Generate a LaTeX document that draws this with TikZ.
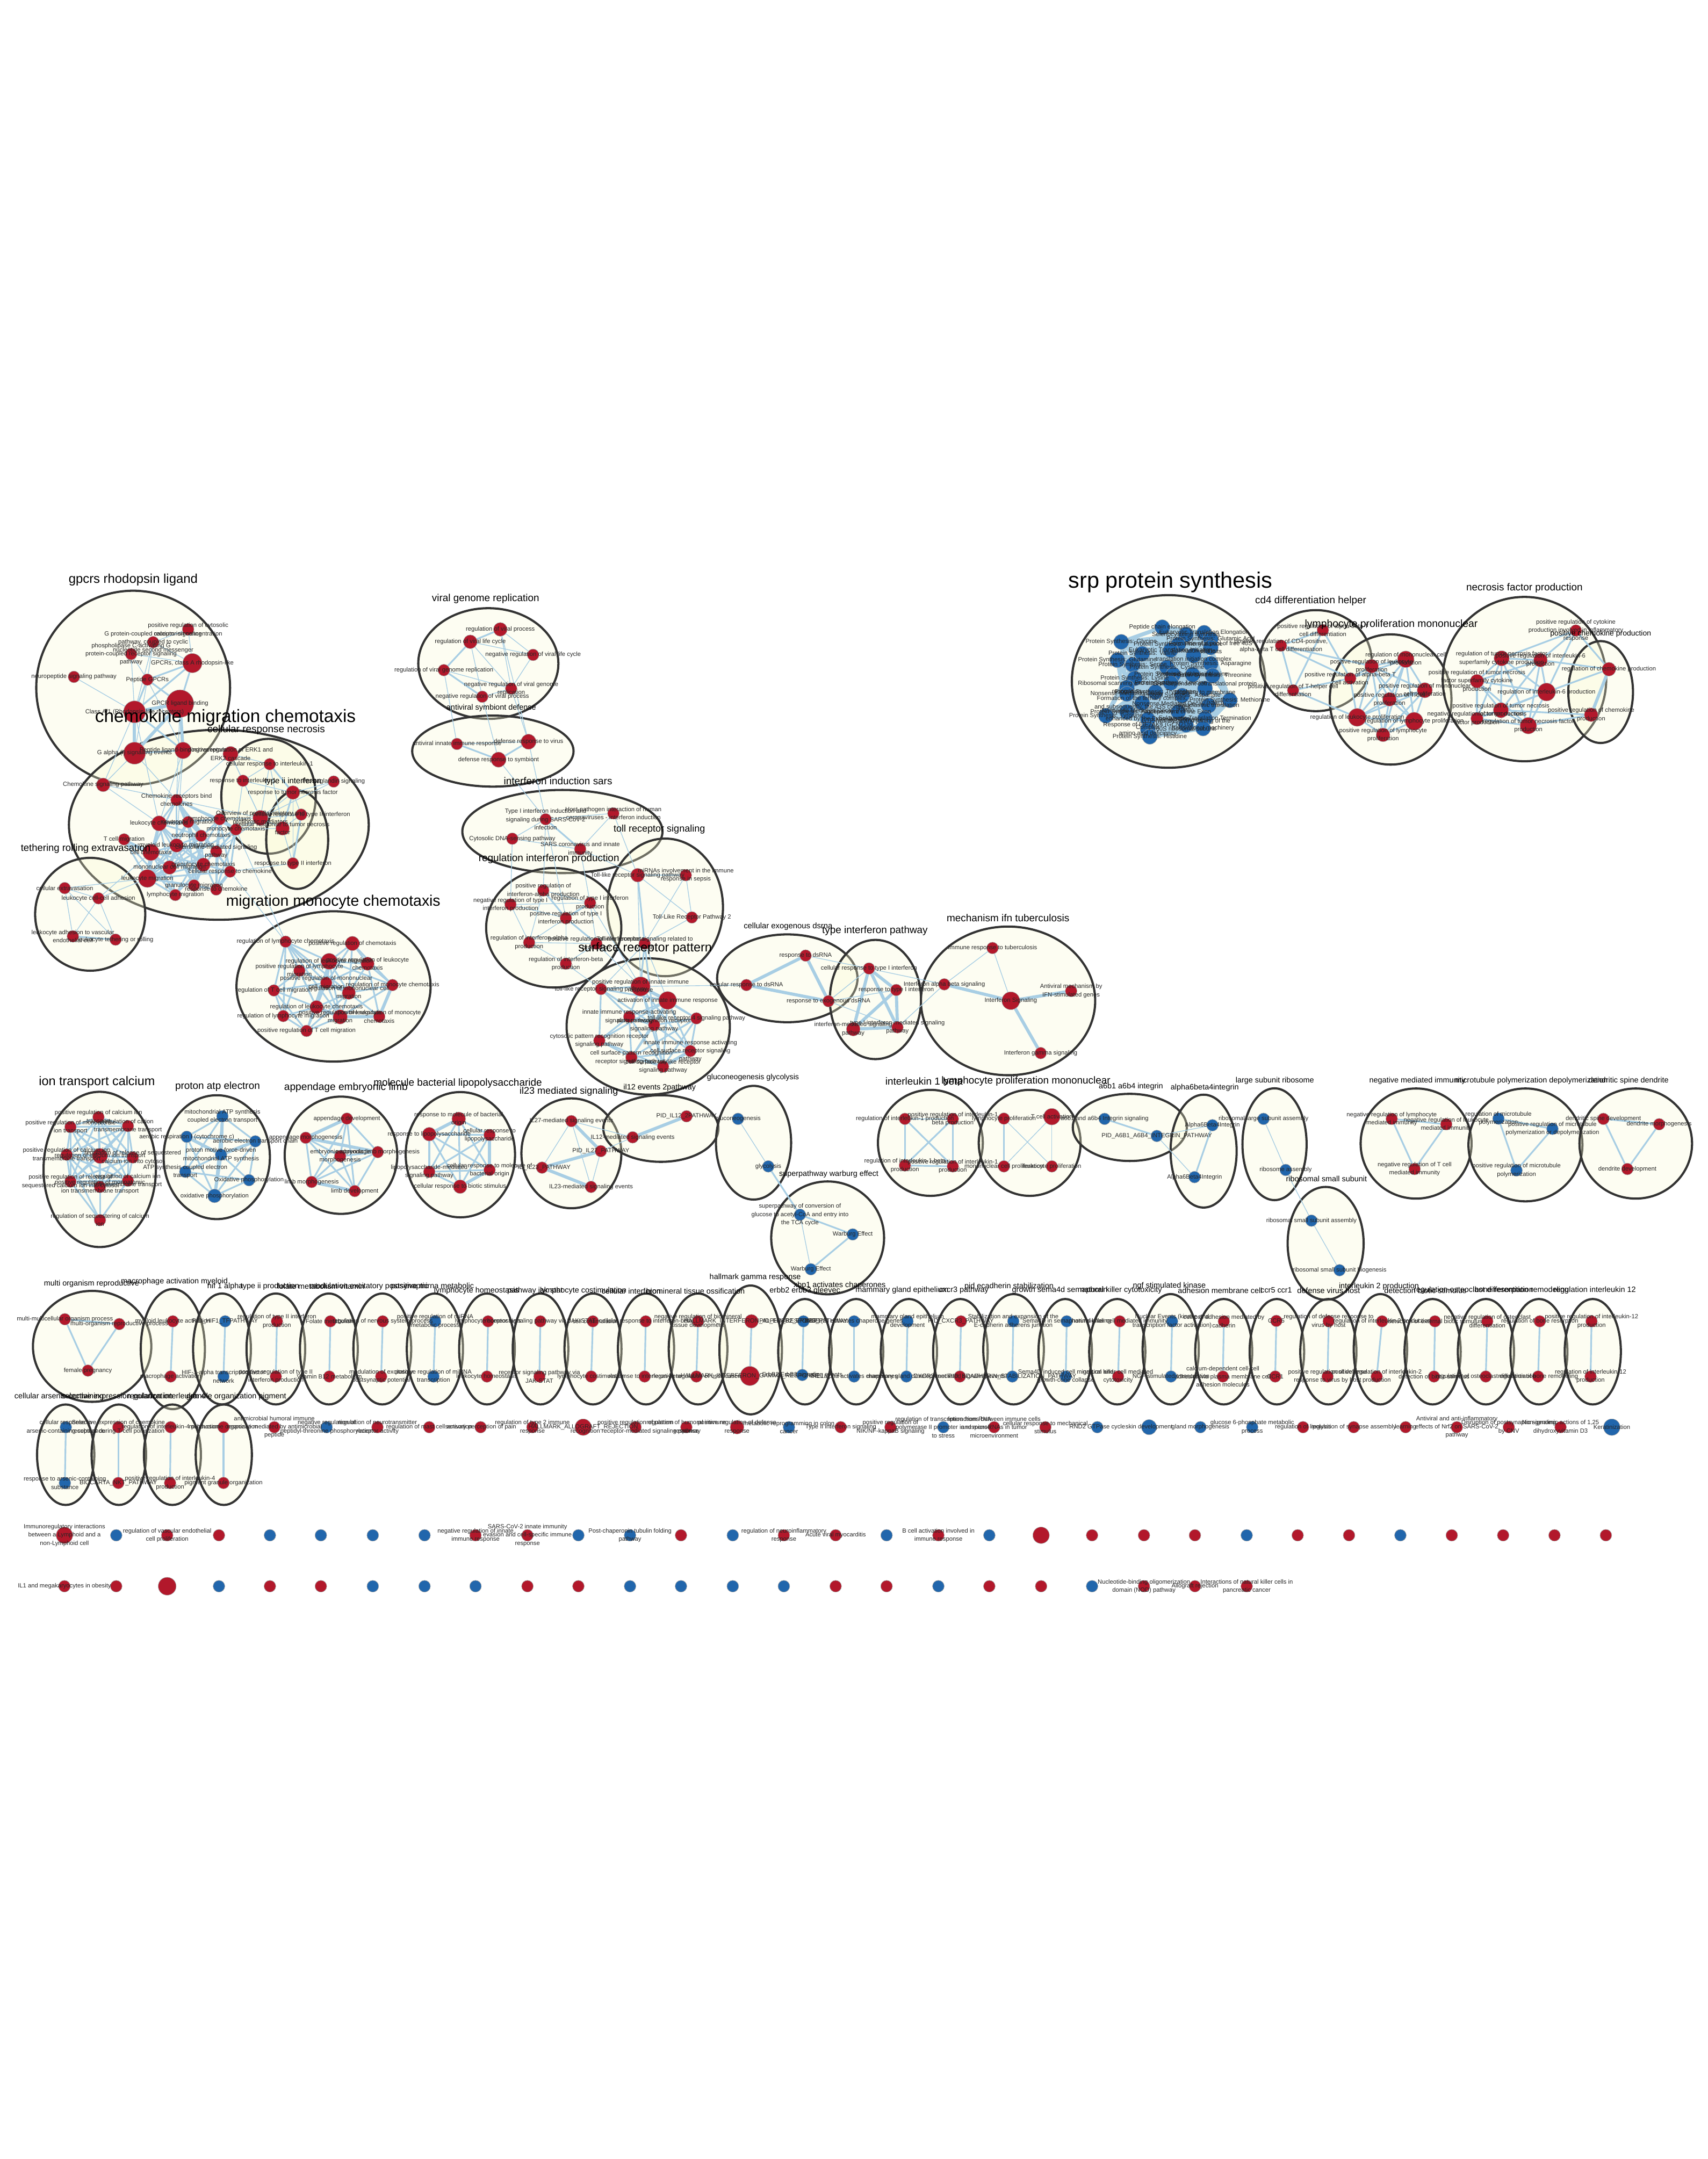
\documentclass[tikz,border=0pt]{standalone}
\usepackage{fontspec}
\setmainfont{Liberation Sans}
\usetikzlibrary{shapes.geometric}
\pgfdeclarelayer{bg}
\pgfdeclarelayer{edges}
\pgfdeclarelayer{front}
\pgfsetlayers{bg,edges,main,front}
\definecolor{nred}{RGB}{178,24,43}
\definecolor{nblue}{RGB}{33,102,172}
\definecolor{eblue}{RGB}{168,206,228}
\definecolor{cfill}{RGB}{250,250,212}
\definecolor{cline}{RGB}{51,51,51}
\tikzset{
 rn/.style={circle,inner sep=0pt,fill=nred,draw=gray!70,line width=0.15pt},
 bn/.style={rn,fill=nblue},
 sz/.style={minimum size=#1*0.02cm},
 lbl/.style={font=\fontsize{2.5}{3.4}\selectfont,align=center,inner sep=0pt,text=black!85},
 ttl/.style={inner sep=0pt,text=black},
 clus/.style={ellipse,draw=cline,line width=0.9pt,fill=cfill,fill opacity=0.3,inner sep=0pt},
 lk/.style={draw=eblue,line width=0.3pt},
 lkm/.style={draw=eblue,line width=0.7pt},
 lkt/.style={draw=eblue,line width=1.3pt},
}
\newcommand\drawR[5][8.5]{\node[rn,sz=#1] (#2) at (#3,#4) {};}
\newcommand\drawB[5][8.5]{\node[bn,sz=#1] (#2) at (#3,#4) {};}
\newcommand\labR[5][8.5]{\node[lbl] (#2-l) at (#3,#4) {#5};}
\newcommand\mkC[5]{\node[clus,minimum width=#4*0.04cm,minimum height=#5*0.04cm] (#1) at (#2,#3) {};}
\newcommand\mkT[5]{\node[ttl,font=\fontsize{#4}{#4}\selectfont] (T-#1) at (#2,#3) {#5};}
\newcommand\nodelist{%
% cluster A gpcrs
\mkR{a1}{136.6}{457}{positive regulation of cytosolic\\calcium ion concentration}
\mkR{a2}{111.2}{466.4}{G protein-coupled receptor signaling\\pathway, coupled to cyclic\\nucleotide second messenger}
\mkR{a3}{95.2}{475}{phospholipase C-activating G\\protein-coupled receptor signaling\\pathway}
\mkR[14]{a4}{139.7}{481.6}{GPCRs, class A rhodopsin-like}
\mkR{a5}{53.7}{491.6}{neuropeptide signaling pathway}
\mkR{a6}{107}{493.6}{Peptide GPCRs}
\mkR[20]{a7}{130.7}{511}{GPCR ligand binding}
\mkR[16]{a8}{97.7}{517}{Class A/1 (Rhodopsin-like receptors)}
\mkR[16]{a9}{97.7}{547}{G alpha (i) signalling events}
\mkR[12]{a10}{132.9}{545}{Peptide ligand-binding receptors}
\mkR[10]{a11}{74.9}{570}{Chemokine signaling pathway}
% cluster B chemokine
\mkR[11]{b1}{167.4}{547.6}{positive regulation of ERK1 and\\ERK2 cascade}
\mkR{b2}{195.8}{555}{cellular response to interleukin-1}
\mkR{b3}{176.4}{567}{response to interleukin-1}
\mkR{b4}{242.3}{567.6}{Prostaglandin signaling}
\mkR[10]{b5}{212.7}{575.6}{response to tumor necrosis factor}
\mkR{b6}{128.2}{581}{Chemokine receptors bind\\chemokines}
\mkR[11]{b7}{189.1}{594}{Overview of proinflammatory and\\profibrotic mediators}
\mkR{b8}{218.7}{591.6}{cellular response to type II interferon}
\mkR[10]{b9}{205.2}{601.6}{cellular response to tumor necrosis\\factor}
\mkR[11]{b10}{115.5}{598}{leukocyte chemotaxis}
\mkR{b11}{136.6}{597}{neutrophil migration}
\mkR{b12}{159.5}{595}{lymphocyte chemotaxis}
\mkR{b13}{171.3}{602.4}{monocyte chemotaxis}
\mkR{b14}{146}{607}{neutrophil chemotaxis}
\mkR{b15}{90.1}{609.6}{T cell migration}
\mkR[10]{b16}{128.2}{614}{myeloid leukocyte migration}
\mkR[12]{b17}{109.6}{619}{cell chemotaxis}
\mkR{b18}{157}{618.4}{chemokine-mediated signaling\\pathway}
\mkR[10]{b19}{123.1}{630}{mononuclear cell migration}
\mkR[10]{b20}{147.7}{628}{granulocyte chemotaxis}
\mkR{b21}{167.1}{633}{cellular response to chemokine}
\mkR[13]{b22}{107}{638}{leukocyte migration}
\mkR{b23}{140.9}{643}{granulocyte migration}
\mkR{b24}{157}{646}{response to chemokine}
\mkR{b25}{127.3}{650}{lymphocyte migration}
\mkR{b26}{212.7}{627}{response to type II interferon}
% cluster E tethering
\mkR{e1}{47}{645}{cellular extravasation}
\mkR{e2}{71.5}{652.4}{leukocyte cell-cell adhesion}
\mkR{e3}{52.9}{680}{leukocyte adhesion to vascular\\endothelial cell}
\mkR{e4}{83.9}{682.4}{leukocyte tethering or rolling}
% cluster F migration monocyte
\mkR{f1}{207.4}{683.9}{regulation of lymphocyte chemotaxis}
\mkR[10.4]{f2}{255.9}{685.2}{positive regulation of chemotaxis}
\mkR[11.7]{f3}{239}{698.2}{regulation of leukocyte migration}
\mkR[9.7]{f4}{266.9}{699.9}{positive regulation of leukocyte\\chemotaxis}
\mkR{f5}{217.4}{705}{positive regulation of lymphocyte\\migration}
\mkR{f6}{236.9}{713.8}{positive regulation of mononuclear\\cell migration}
\mkR{f7}{198.9}{719.3}{regulation of T cell migration}
\mkR{f8}{285}{715.4}{regulation of monocyte chemotaxis}
\mkR[9.7]{f9}{253.3}{721}{regulation of mononuclear cell\\migration}
\mkR[9.7]{f10}{229.8}{731.4}{regulation of leukocyte chemotaxis}
\mkR{f11}{205.7}{737.9}{regulation of lymphocyte migration}
\mkR[10.4]{f12}{247}{738.5}{positive regulation of leukocyte\\migration}
\mkR{f13}{275.4}{738.3}{positive regulation of monocyte\\chemotaxis}
\mkR{f14}{222.6}{748.7}{positive regulation of T cell migration}
% cluster G viral
\mkR[10]{g1}{363.3}{457.1}{regulation of viral process}
\mkR[10]{g2}{341.5}{466.1}{regulation of viral life cycle}
\mkR{g3}{387.1}{475.6}{negative regulation of viral life cycle}
\mkR{g4}{322.3}{486.7}{regulation of viral genome replication}
\mkR{g5}{371.2}{500.1}{negative regulation of viral genome\\replication}
\mkR{g6}{350.2}{506}{negative regulation of viral process}
% cluster H antiviral
\mkR{h1}{331.8}{540.3}{antiviral innate immune response}
\mkR[11]{h2}{383.8}{538.7}{defense response to virus}
\mkR[11]{h3}{362}{551.7}{defense response to symbiont}
% cluster I
\mkR{i1}{396.2}{595}{Type I interferon induction and\\signaling during SARS-CoV-2\\infection}
\mkR{i2}{445.4}{590.7}{Host-pathogen interaction of human\\coronaviruses - interferon induction}
\mkR{i3}{372}{609.1}{Cytosolic DNA-sensing pathway}
\mkR{i4}{421.3}{616.7}{SARS coronavirus and innate\\immunity}
% cluster J toll
\mkR[10]{j1}{463}{635.6}{Toll-like receptor signaling pathway}
\mkR{j2}{498}{635.6}{miRNAs involvement in the immune\\response in sepsis}
\mkR{j3}{502.4}{666.3}{Toll-Like Receptor Pathway 2}
\mkR{j4}{468.1}{685.3}{Toll-like receptor signaling related to\\MyD88}
% cluster K
\mkR{k1}{394.5}{646.7}{positive regulation of\\interferon-alpha production}
\mkR{k2}{370.7}{656.9}{negative regulation of type I\\interferon production}
\mkR{k3}{428.5}{655.7}{regulation of type I interferon\\production}
\mkR{k4}{410.9}{666.8}{positive regulation of type I\\interferon production}
\mkR{k5}{384.2}{684.5}{regulation of interferon-alpha\\production}
\mkR{k6}{433.1}{685.3}{positive regulation of interferon-beta\\production}
\mkR{k7}{410.9}{699.9}{regulation of interferon-beta\\production}
% cluster L
\mkR[14]{l1}{465.1}{716.4}{positive regulation of innate immune\\response}
\mkR{l2}{436.4}{718.3}{toll-like receptor signaling pathway}
\mkR[13]{l3}{484.8}{726.6}{activation of innate immune response}
\mkR{l4}{456.9}{738.4}{innate immune response-activating\\signaling pathway}
\mkR{l5}{475}{744.4}{pattern recognition receptor\\signaling pathway}
\mkR{l6}{505.7}{739.6}{toll-like receptor 4 signaling pathway}
\mkR{l7}{435.2}{755.7}{cytosolic pattern recognition receptor\\signaling pathway}
\mkR{l8}{501.3}{763.3}{innate immune response activating\\cell surface receptor signaling\\pathway}
\mkR{l9}{458.5}{768}{cell surface pattern recognition\\receptor signaling pathway}
\mkR{l10}{481.5}{774.6}{cell surface toll-like receptor\\signaling pathway}
% cluster M srp (blue)
\mkB[11]{s1}{844}{455.6}{Peptide chain elongation}
\mkB[11]{s2}{861.2}{460.9}{Selenocysteine synthesis}
\mkB[11]{s3}{874.4}{459.6}{Eukaryotic Translation Elongation}
\mkB[11]{s4}{879.1}{464.2}{Protein Synthesis: Glutamic Acid}
\mkB[11]{s5}{814.2}{466.2}{Protein Synthesis: Glycine}
\mkB[11]{s6}{855.6}{468.2}{Protein Synthesis: Phenylalanine}
\mkB[11]{s7}{879.1}{470.2}{Formation of a pool of free 40S\\subunits}
\mkB[11]{s8}{850.1}{472.2}{Eukaryotic Translation Initiation}
\mkB[11]{s9}{829.4}{474.8}{Protein Synthesis: Valine}
\mkB[11]{s10}{866.7}{476.1}{Formation of the\\translation initiation complex}
\mkB[11]{s11}{811.4}{479.4}{Protein Synthesis: Glutamine}
\mkB[11]{s12}{879.1}{482.1}{Protein Synthesis: Asparagine}
\mkB[11]{s13}{822.5}{482.8}{Protein Synthesis: Serine}
\mkB[11]{s14}{847.3}{484.7}{Protein Synthesis: Cysteine}
\mkB[11]{s15}{852}{490}{Protein Synthesis: Isoleucine}
\mkB[11]{s16}{880.5}{490.7}{Protein Synthesis: Threonine}
\mkB[11]{s17}{823.9}{492.7}{Protein Synthesis: Lysine}
\mkB[11]{s18}{850.1}{496}{Protein Synthesis: Leucine}
\mkB[11]{s19}{875}{500}{SRP-dependent cotranslational protein\\targeting to membrane}
\mkB[11]{s20}{818.3}{499.3}{Ribosomal scanning and start codon\\recognition}
\mkB[11]{s21}{818.3}{504}{Nonsense-Mediated Decay}
\mkB[11]{s22}{839}{502.6}{Protein Synthesis: Tryptophan}
\mkB[11]{s23}{893}{508.5}{Protein Synthesis: Methionine}
\mkB[11]{s24}{858.4}{505.2}{Protein Synthesis: Aspartate}
\mkB[11]{s25}{829.4}{510.5}{Formation of the ternary complex,\\and subsequently, the 43S complex}
\mkB[11]{s26}{877.7}{512.5}{cytoplasmic translation}
\mkB[11]{s27}{818.3}{517.1}{Protein Synthesis: Arginine}
\mkB[11]{s28}{855.6}{517.1}{Nonsense Mediated Decay (NMD)\\independent of the Exon\\Junction Complex}
\mkB[11]{s29}{803.1}{519.8}{Protein Synthesis: Tyrosine}
\mkB[11]{s30}{875}{521.8}{Eukaryotic Translation Termination}
\mkB[11]{s31}{833.5}{522.4}{Nonsense Mediated Decay (NMD)\\enhanced by the Exon Junction\\Complex}
\mkB[11]{s32}{833.5}{529.7}{Response of EIF2AK4 (GCN2) to\\amino acid deficiency}
\mkB[11]{s33}{861.2}{526.4}{GTP hydrolysis and joining of the\\60S ribosomal subunit}
\mkB[11]{s34}{873.6}{529}{translational machinery}
\mkB[11]{s35}{834.9}{535}{Protein Synthesis: Histidine}
\mkB[11]{s36}{866}{490}{Protein Synthesis: Alanine}
% cluster N cd4
\mkR{n1}{960.6}{457.6}{positive regulation of alpha-beta T\\cell differentiation}
\mkR{n2}{930.2}{468.9}{positive regulation of CD4-positive,\\alpha-beta T cell differentiation}
\mkR{n3}{980.5}{492.7}{positive regulation of alpha-beta T\\cell activation}
\mkR{n4}{939}{501.3}{positive regulation of T-helper cell\\differentiation}
% cluster O
\mkR[12]{o1}{1020.8}{478.8}{regulation of mononuclear cell\\proliferation}
\mkR[10]{o2}{996}{483.8}{positive regulation of leukocyte\\proliferation}
\mkR[11]{o3}{1034.6}{501.3}{positive regulation of mononuclear\\cell proliferation}
\mkR[10]{o4}{1009}{507.9}{positive regulation of T cell\\proliferation}
\mkR[13]{o5}{985.5}{521}{regulation of leukocyte proliferation}
\mkR[13]{o6}{1026.9}{523.8}{regulation of lymphocyte proliferation}
\mkR[10]{o7}{1004.3}{533.7}{positive regulation of lymphocyte\\proliferation}
% cluster P
\mkR{p1}{1144.3}{457.9}{positive regulation of cytokine\\production involved in inflammatory\\response}
\mkR[11]{p2}{1090.4}{478.1}{regulation of tumor necrosis factor\\superfamily cytokine production}
\mkR[10]{p3}{1118.6}{479.4}{positive regulation of interleukin-6\\production}
\mkR[10]{p4}{1072.5}{494.7}{positive regulation of tumor necrosis\\factor superfamily cytokine\\production}
\mkR[13]{p5}{1123}{502.6}{regulation of interleukin-6 production}
\mkR[11]{p6}{1089.9}{515.8}{positive regulation of tumor necrosis\\factor production}
\mkR[9]{p7}{1072.5}{521.8}{negative regulation of tumor necrosis\\factor production}
\mkR[12]{p8}{1109.8}{527}{regulation of tumor necrosis factor\\production}
\mkR[10]{q1}{1168.3}{486}{regulation of chemokine production}
\mkR[10]{q2}{1155.4}{519.1}{positive regulation of chemokine\\production}
% clusters R S T
\mkR{r1}{585}{694}{response to dsRNA}
\mkR{r2}{542}{715.4}{cellular response to dsRNA}
\mkR{r3}{601.6}{727.1}{response to exogenous dsRNA}
\mkR{ti1}{631}{703.4}{cellular response to type I interferon}
\mkR{ti2}{650.8}{719}{response to type I interferon}
\mkR[10]{ti3}{619.6}{747.4}{interferon-mediated signaling\\pathway}
\mkR{ti4}{651.7}{746.1}{type I interferon-mediated signaling\\pathway}
\mkR{mt1}{720.7}{688.5}{Immune response to tuberculosis}
\mkR{mt2}{685.7}{714.9}{Interferon alpha beta signaling}
\mkR{mt3}{777.8}{719.7}{Antiviral mechanism by\\IFN-stimulated genes}
\mkR[13]{mt4}{734}{726.8}{Interferon Signaling}
\mkR{mt5}{755.7}{764.8}{Interferon gamma signaling}
% cluster U ion transport
\mkR{u1}{71.5}{811.3}{positive regulation of calcium ion\\transport}
\mkR{u2}{51.2}{818.5}{positive regulation of monoatomic\\ion transport}
\mkR{u3}{92.9}{817.8}{regulation of cation\\transmembrane transport}
\mkR{u4}{48.4}{838.6}{positive regulation of calcium ion\\transmembrane transport}
\mkR[11]{u5}{72.6}{839.5}{regulation of calcium ion transport}
\mkR{u6}{96.4}{840.6}{regulation of release of sequestered\\calcium ion into cytosol}
\mkR{u7}{51.2}{858.1}{positive regulation of release of\\sequestered calcium ion into cytosol}
\mkR{u8}{92.9}{857.5}{regulation of calcium ion\\transmembrane transport}
\mkR{u9}{72.6}{862}{positive regulation of monoatomic\\ion transmembrane transport}
\mkR{u10}{72.6}{886.1}{regulation of sequestering of calcium\\ion}
% cluster V proton (blue)
\mkB{v1}{161.5}{810.7}{mitochondrial ATP synthesis\\coupled electron transport}
\mkB{v2}{135.6}{825.6}{aerobic respiration I (cytochrome c)}
\mkB{v3}{185.4}{828.9}{aerobic electron transport chain}
\mkB{v4}{160.5}{838.6}{proton motive force-driven\\mitochondrial ATP synthesis}
\mkB{v5}{134.5}{851}{ATP synthesis coupled electron\\transport}
\mkB{v6}{180.8}{857.1}{Oxidative phosphorylation}
\mkB[10]{v7}{155.8}{868.5}{oxidative phosphorylation}
% cluster W appendage
\mkR{w1}{251.9}{812.4}{appendage development}
\mkR{w2}{222}{826.3}{appendage morphogenesis}
\mkR{w3}{247}{839.7}{embryonic appendage\\morphogenesis}
\mkR{w4}{274.3}{836.7}{embryonic limb morphogenesis}
\mkR{w5}{226.3}{858.4}{limb morphogenesis}
\mkR{w6}{257.6}{865}{limb development}
% cluster X lps
\mkR[10]{x1}{333.1}{812.6}{response to molecule of bacterial\\origin}
\mkR[10]{x2}{311.7}{823.7}{response to lipopolysaccharide}
\mkR{x3}{355.5}{824.3}{cellular response to\\lipopolysaccharide}
\mkR{x4}{311.7}{851}{lipopolysaccharide-mediated\\signaling pathway}
\mkR{x5}{355.5}{849.7}{cellular response to molecule of\\bacterial origin}
\mkR[10]{x6}{334.1}{861.8}{cellular response to biotic stimulus}
% cluster Y Z
\mkR{y1}{414.9}{814.2}{IL27-mediated signaling events}
\mkR{y2}{436.3}{836}{PID\_IL27\_PATHWAY}
\mkR{y3}{393.6}{848}{PID\_IL23\_PATHWAY}
\mkR{y4}{429.2}{862}{IL23-mediated signaling events}
\mkR{z1}{498.5}{810.7}{PID\_IL12\_2PATHWAY}
\mkR{z2}{459.4}{826}{IL12-mediated signaling events}
% gluconeogenesis, warburg
\mkB{gl1}{535.9}{812.6}{gluconeogenesis}
\mkB{gl2}{557.9}{847.1}{glycolysis}
\mkB{wb1}{580.9}{882.2}{superpathway of conversion of\\glucose to acetyl-CoA and entry into\\the TCA cycle}
\mkB{wb2}{619.2}{896.5}{Warburg Effect}
\mkB{wb3}{588.8}{921.8}{Warburg Effect}
% interleukin 1 beta, lymphocyte proliferation 2
\mkR{ib1}{657.1}{812.6}{regulation of interleukin-1 production}
\mkR{ib2}{691.9}{812.6}{positive regulation of interleukin-1\\beta production}
\mkR{ib3}{657.1}{846.4}{regulation of interleukin-1 beta\\production}
\mkR{ib4}{691.9}{847.1}{positive regulation of interleukin-1\\production}
\mkR{lp1}{729}{812.4}{lymphocyte proliferation}
\mkR[12]{lp2}{763.8}{811}{T cell activation}
\mkR{lp3}{729}{847.1}{mononuclear cell proliferation}
\mkR{lp4}{763.8}{847.1}{leukocyte proliferation}
% integrins, ribosome
\mkB{ig1}{802.1}{812.6}{a6b1 and a6b4 Integrin signaling}
\mkB{ig2}{840}{825}{PID\_A6B1\_A6B4\_INTEGRIN\_PATHWAY}
\mkB{ig3}{880.4}{817.2}{Alpha6Beta4Integrin}
\mkB{ig4}{867.4}{854.9}{Alpha6Beta4Integrin}
\mkB{rb1}{917.5}{812.6}{ribosomal large subunit assembly}
\mkB{rb2}{933.6}{849.7}{ribosome assembly}
\mkB{rb3}{952.3}{886.5}{ribosomal small subunit assembly}
\mkB{rb4}{972.7}{922.5}{ribosomal small subunit biogenesis}
% negative mediated, microtubule, dendritic
\mkR{nm1}{1010.6}{812.6}{negative regulation of lymphocyte\\mediated immunity}
\mkR{nm2}{1050.2}{816.5}{negative regulation of leukocyte\\mediated immunity}
\mkR{nm3}{1027.2}{849}{negative regulation of T cell\\mediated immunity}
\mkB{mc1}{1088.1}{812.4}{regulation of microtubule\\polymerization}
\mkB{mc2}{1127.3}{819.8}{positive regulation of microtubule\\polymerization or depolymerization}
\mkB{mc3}{1101.2}{850}{positive regulation of microtubule\\polymerization}
\mkR{dd1}{1164.3}{812.6}{dendritic spine development}
\mkR{dd2}{1204.8}{816.5}{dendrite morphogenesis}
\mkR{dd3}{1181.7}{849}{dendrite development}
% row 1 pairs
\mkR{mo1}{47.1}{958.1}{multi-multicellular organism process}
\mkR{mo2}{86.6}{961.6}{multi-organism reproductive process}
\mkR{mo3}{63.8}{995.4}{female pregnancy}
\mkR{ma1}{125.5}{959.6}{myeloid leukocyte activation}
\mkR{ma2}{123.9}{999.7}{macrophage activation}
\mkB{hf1}{163.5}{959.6}{PID\_HIF1\_TFPATHWAY}
\mkB{hf2}{162.3}{999.7}{HIF-1-alpha transcription factor\\network}
\mkR{ty1}{201.1}{959.6}{regulation of type II interferon\\production}
\mkR{ty2}{200.3}{999.7}{positive regulation of type II\\interferon production}
\mkR{fo1}{239.9}{959.6}{Folate metabolism}
\mkR{fo2}{239.1}{999.7}{Vitamin B12 metabolism}
\mkR{mx1}{277.9}{959.6}{regulation of nervous system process}
\mkR{mx2}{276.8}{999.7}{modulation of excitatory\\postsynaptic potential}
\mkB{mi1}{316}{959.6}{positive regulation of miRNA\\metabolic process}
\mkB{mi2}{314.8}{999.7}{positive regulation of miRNA\\transcription}
\mkR{lh1}{354.4}{959.6}{lymphocyte homeostasis}
\mkR{lh2}{353.6}{999.7}{leukocyte homeostasis}
\mkR{js1}{392.4}{959.6}{receptor signaling pathway via JAK-STAT}
\mkR{js2}{391.7}{999.7}{receptor signaling pathway via\\JAK-STAT}
\mkR{lc1}{430.5}{959.6}{T cell costimulation}
\mkR{lc2}{429.3}{999.7}{lymphocyte costimulation}
\mkR{ci1}{468.9}{959.6}{cellular response to interferon-beta}
\mkR{ci2}{468.1}{999.7}{response to interferon-beta}
\mkR{bt1}{506.9}{959.6}{negative regulation of biomineral\\tissue development}
\mkR{bt2}{505.7}{999.7}{negative regulation of ossification}
\mkR[10]{hg1}{545.7}{959.6}{HALLMARK\_INTERFERON\_ALPHA\_RESPONSE}
\mkR[14]{hg2}{544.5}{999.3}{HALLMARK\_INTERFERON\_GAMMA\_RESPONSE}
\mkB{eb1}{583.4}{959.6}{PID\_ERBB2\_ERBB3\_PATHWAY}
\mkB{eb2}{582.6}{998.6}{ErbB2/ErbB3 signaling events}
\mkB{xb1}{620.2}{959.6}{XBP1(S) activates chaperone genes}
\mkB{xb2}{620.2}{999.7}{IRE1alpha activates chaperones}
\mkB{mg1}{659}{959.6}{mammary gland epithelium\\development}
\mkB{mg2}{658.2}{999.7}{mammary gland development}
\mkR{cx1}{697.8}{959.6}{PID\_CXCR3\_PATHWAY}
\mkR{cx2}{697}{999.7}{CXCR3-mediated signaling events}
\mkB{ec1}{735.8}{959.6}{Stabilization and expansion of the\\E-cadherin adherens junction}
\mkB{ec2}{735.1}{999.7}{PID\_ECADHERIN\_STABILIZATION\_PATHWAY}
\mkB{sm1}{774.6}{959.6}{Sema4D in semaphorin signaling}
\mkB{sm2}{773.9}{999.7}{Sema4D induced cell migration and\\growth-cone collapse}
\mkR{nk1}{813.1}{959.6}{natural killer cell mediated immunity}
\mkR{nk2}{811.9}{999.7}{natural killer cell mediated\\cytotoxicity}
\mkB{ng1}{851.1}{959.6}{Nuclear Events (kinase and\\transcription factor activation)}
\mkB{ng2}{850.3}{999.7}{NGF-stimulated transcription}
\mkR{ad1}{888.7}{959.6}{cell-cell adhesion mediated by\\cadherin}
\mkR{ad2}{888}{999.7}{calcium-dependent cell-cell\\adhesion via plasma membrane cell\\adhesion molecules}
\mkR{cc1}{926.8}{959.3}{CCR5}
\mkR{cc2}{926}{999.7}{CCR1}
\mkR{dv1}{964.8}{959.6}{regulation of defense response to\\virus by host}
\mkR{dv2}{964}{999.7}{positive regulation of defense\\response to virus by host}
\mkR{il1}{1003.6}{959.6}{regulation of interleukin-2 production}
\mkR{il2}{999.7}{999.7}{positive regulation of interleukin-2\\production}
\mkR{db1}{1042}{959.6}{detection of external biotic stimulus}
\mkR{db2}{1041.3}{999.7}{detection of biotic stimulus}
\mkR{ro1}{1080}{959.6}{negative regulation of osteoclast\\differentiation}
\mkR{ro2}{1078.9}{999.7}{regulation of osteoclast differentiation}
\mkR{br1}{1118.1}{959.6}{regulation of bone resorption}
\mkR{br2}{1116.9}{999.7}{regulation of bone remodeling}
\mkR{iw1}{1155.7}{959.6}{positive regulation of interleukin-12\\production}
\mkR{iw2}{1155}{999.7}{regulation of interleukin-12\\production}
% row 2 pairs
\mkB{ar1}{47.8}{1036.5}{cellular response to\\arsenic-containing substance}
\mkB{ar2}{47.1}{1077}{response to arsenic-containing\\substance}
\mkR{se1}{85.9}{1036.5}{Selective expression of chemokine\\receptors during T-cell polarization}
\mkR{se2}{85.9}{1077}{BIOCARTA\_NKT\_PATHWAY}
\mkR{fa1}{123.9}{1036.5}{regulation of interleukin-4 production}
\mkR{fa2}{123.5}{1077}{positive regulation of interleukin-4\\production}
\mkR{pg1}{162.3}{1036.5}{melanosome organization}
\mkR{pg2}{162.3}{1077}{pigment granule organization}
% singletons row A
\mkR{sa1}{199.2}{1036.5}{antimicrobial humoral immune\\response mediated by antimicrobial\\peptide}
\mkB{sa2}{237.2}{1036.5}{negative regulation of\\peptidyl-threonine phosphorylation}
\mkR{sa3}{274.1}{1036.5}{regulation of neurotransmitter\\receptor activity}
\mkR{sa4}{311.7}{1036.5}{regulation of mast cell activation}
\mkR{sa5}{349}{1036.5}{sensory perception of pain}
\mkR{sa6}{386.6}{1036.5}{regulation of type 2 immune\\response}
\mkR[12]{sa7}{423.5}{1036.5}{HALLMARK\_ALLOGRAFT\_REJECTION}
\mkR{sa8}{461.5}{1036.5}{positive regulation of pattern\\recognition receptor-mediated signaling pathway}
\mkR{sa9}{498.4}{1036.5}{regulation of humoral immune\\response}
\mkR[10]{sa10}{535.2}{1036.5}{positive regulation of defense\\response}
\mkB{sa11}{572.9}{1036.5}{metabolic reprogramming in colon\\cancer}
\mkR{sa12}{610.5}{1036.5}{Type II interferon signaling}
\mkR{sa13}{646.6}{1036.5}{positive regulation of\\NIK/NF-kappaB signaling}
\mkB{sa14}{685}{1036.5}{regulation of transcription from RNA\\polymerase II promoter in response\\to stress}
\mkR{sa15}{721.9}{1036.5}{Interactions between immune cells\\and microRNAs in tumor\\microenvironment}
\mkR{sa16}{759.1}{1036.5}{cellular response to mechanical\\stimulus}
\mkB{sa17}{796.8}{1036.5}{RND2 GTPase cycle}
\mkB[11]{sa18}{834.4}{1036.5}{skin development}
\mkB{sa19}{871.7}{1036.5}{gland morphogenesis}
\mkB{sa20}{909.3}{1036.5}{glucose 6-phosphate metabolic\\process}
\mkR{sa21}{946.2}{1036.5}{regulation of lipolysis}
\mkR{sa22}{983}{1036.5}{regulation of synapse assembly}
\mkR{sa23}{1020.7}{1036.5}{learning}
\mkR{sa24}{1057.9}{1036.5}{Antiviral and anti-inflammatory\\effects of Nrf2 on SARS-CoV-2\\pathway}
\mkR{sa25}{1095.6}{1036.5}{Disruption of postsynaptic signaling\\by CNV}
\mkR{sa26}{1133.2}{1036.5}{Non-genomic actions of 1,25\\dihydroxyvitamin D3}
\mkB[12]{sa27}{1170.4}{1036.5}{Keratinization}
% singletons row B
\mkR[12]{sb1}{46.8}{1115}{Immunoregulatory interactions\\between a Lymphoid and a\\non-Lymphoid cell}
\mkB{sb2}{84.4}{1115}{}
\mkR{sb3}{121.4}{1115}{regulation of vascular endothelial\\cell proliferation}
\mkR{sb4}{159}{1115}{}
\mkB{sb5}{196}{1115}{}
\mkB{sb6}{233}{1115}{}
\mkB{sb7}{270.7}{1115}{}
\mkB{sb8}{308.3}{1115}{}
\mkR{sb9}{345.3}{1115}{negative regulation of innate\\immune response}
\mkR{sb10}{383}{1115}{SARS-CoV-2 innate immunity\\evasion and cell-specific immune\\response}
\mkB{sb11}{420}{1115}{}
\mkB{sb12}{457.5}{1115}{Post-chaperonin tubulin folding\\pathway}
\mkR{sb13}{494.5}{1115}{}
\mkB{sb14}{532.1}{1115}{}
\mkR{sb15}{569.2}{1115}{regulation of neuroinflammatory\\response}
\mkR{sb16}{606.8}{1115}{Acute viral myocarditis}
\mkB{sb17}{643.8}{1115}{}
\mkR{sb18}{681.4}{1115}{B cell activation involved in\\immune response}
\mkB{sb19}{718.4}{1115}{}
\mkR[12]{sb20}{756}{1115}{}
\mkR{sb21}{793}{1115}{}
\mkR{sb22}{830.7}{1115}{}
\mkR{sb23}{867.7}{1115}{}
\mkB{sb24}{905.3}{1115}{}
\mkR{sb25}{942.3}{1115}{}
\mkR{sb26}{979.6}{1115}{}
\mkB{sb27}{1016.9}{1115}{}
\mkR{sb28}{1054.2}{1115}{}
\mkR{sb29}{1091.5}{1115}{}
\mkR{sb30}{1128.8}{1115}{}
\mkR{sb31}{1166.1}{1115}{}
% singletons row C
\mkR{sc1}{46.8}{1152}{IL1 and megakaryocytes in obesity}
\mkR{sc2}{84.4}{1152}{}
\mkR[13]{sc3}{121.4}{1152}{}
\mkB{sc4}{159}{1152}{}
\mkR{sc5}{196}{1152}{}
\mkR{sc6}{233}{1152}{}
\mkB{sc7}{270.7}{1152}{}
\mkB{sc8}{308.3}{1152}{}
\mkB{sc9}{345.3}{1152}{}
\mkR{sc10}{383}{1152}{}
\mkR{sc11}{420}{1152}{}
\mkB{sc12}{457.5}{1152}{}
\mkB{sc13}{494.5}{1152}{}
\mkB{sc14}{532.1}{1152}{}
\mkB{sc15}{569.2}{1152}{}
\mkR{sc16}{606.8}{1152}{}
\mkR{sc17}{643.8}{1152}{}
\mkB{sc18}{681.4}{1152}{}
\mkR{sc19}{718.4}{1152}{}
\mkR{sc20}{756}{1152}{}
\mkB{sc21}{793}{1152}{}
\mkR{sc22}{830.7}{1152}{Nucleotide-binding oligomerization\\domain (NOD) pathway}
\mkR{sc23}{867.7}{1152}{Allograft rejection}
\mkR{sc24}{905.3}{1152}{Interactions of natural killer cells in\\pancreatic cancer}
}
\begin{document}
\begin{tikzpicture}[x=0.02cm,y=-0.02cm]
\useasboundingbox (0,0) rectangle (1240,1568);
\begin{pgfonlayer}{bg}
\fill[white] (0,0) rectangle (1240,1568);
\mkC{cA}{96.7}{499.5}{70.4}{70.5}
\mkC{cB}{158.9}{599}{108.9}{69}
\mkC{cC}{195}{578.3}{34.3}{41.7}
\mkC{cD}{215.8}{609.8}{22.5}{35.8}
\mkC{cE}{65.5}{664}{40}{41}
\mkC{cF}{242.2}{716.4}{70.5}{54.6}
\mkC{cG}{354.6}{481.9}{50.9}{40.2}
\mkC{cH}{357.9}{545.5}{58.6}{25.8}
\mkC{cI}{408.4}{603.9}{72.7}{30.2}
\mkC{cJ}{483}{659}{42}{50}
\mkC{cK}{402.1}{673.8}{49.1}{43.4}
\mkC{cL}{470.7}{745.5}{59.3}{49.5}
\mkC{cM}{848.5}{494.9}{70.2}{62.7}
\mkC{cN}{955.5}{479.8}{40.5}{36.7}
\mkC{cO}{1009.8}{508}{44.2}{47.3}
\mkC{cP}{1107}{493.2}{59.4}{59.7}
\mkC{cQ}{1162.3}{502.6}{23.5}{37}
\mkC{cR}{571.7}{710.5}{51}{31.9}
\mkC{cS}{635.7}{725.9}{33.1}{43.3}
\mkC{cT}{732}{726.9}{63.3}{54}
\mkC{cU}{72.4}{849.3}{40.8}{56.4}
\mkC{cV}{157.4}{840.4}{38.6}{45}
\mkC{cW}{247.6}{839}{40.9}{42.6}
\mkC{cX}{334.3}{838.6}{39.7}{45.5}
\mkC{cY}{414.9}{837.6}{36.3}{39.9}
\mkC{cZ}{479.9}{819.6}{41.8}{24.2}
\mkC{cgl}{547.2}{829.9}{27.3}{41.3}
\mkC{cwb}{601}{899}{41}{41}
\mkC{cib}{675.6}{830}{38.1}{38.5}
\mkC{clp}{747.7}{830}{37}{38.5}
\mkC{cig}{820.4}{818.8}{41.4}{24.4}
\mkC{cig2}{874}{836}{24}{41}
\mkC{crb}{925.5}{831}{23.3}{40.6}
\mkC{crs}{962.6}{903}{27.6}{41}
\mkC{cnm}{1028.3}{830.5}{40.3}{40}
\mkC{cmc}{1107.7}{831.5}{41.4}{41}
\mkC{cdd}{1187.8}{830.5}{40.9}{40}
\mkC{cmo}{66.9}{977.8}{43}{40.3}
\mkC{cma}{125.5}{979.8}{23.3}{43.6}
\mkC{chf}{161.2}{979.7}{21}{40.3}
\mkC{cty}{200.3}{979.7}{21.3}{40.3}
\mkC{cfo}{238.8}{979.7}{21}{40.3}
\mkC{cmx}{277.6}{979.7}{21}{40.3}
\mkC{cmi}{315.8}{979.7}{20.4}{40.3}
\mkC{clh}{353.6}{979.7}{20.2}{40.3}
\mkC{cjs}{392.5}{979.7}{20.2}{40.3}
\mkC{clc}{430.6}{979.7}{20.7}{40.3}
\mkC{cci}{469.1}{979.7}{20.4}{40.3}
\mkC{cbt}{506.9}{979.7}{21.3}{40.3}
\mkC{chg}{545.1}{980.4}{22.7}{46.8}
\mkC{ceb}{584.5}{981.7}{19.4}{38.3}
\mkC{cxb}{621.7}{981.7}{19.7}{38.3}
\mkC{cmg}{660}{981.7}{20.4}{38.3}
\mkC{ccx}{697.4}{981.7}{19.8}{38.3}
\mkC{cec}{736}{979.9}{22}{40.1}
\mkC{csm}{773.5}{981.7}{19.4}{38.3}
\mkC{cnk}{811.3}{981.7}{20.4}{38.3}
\mkC{cng}{850.1}{979.9}{20.4}{40.1}
\mkC{cad}{888.6}{981.7}{20.7}{38.3}
\mkC{ccc}{927.2}{981.7}{19.8}{38.3}
\mkC{cdv}{964.6}{981.7}{20.4}{38.3}
\mkC{cil}{1002.4}{979.9}{19.4}{40.1}
\mkC{cdb}{1040.3}{981.7}{20.4}{38.3}
\mkC{cro}{1079}{981.7}{20.4}{38.3}
\mkC{cbr}{1117.5}{981.7}{20.7}{38.3}
\mkC{ci12}{1156.6}{981.7}{20.4}{38.3}
\mkC{car}{47.7}{1056.5}{20.8}{36.5}
\mkC{cse}{86.3}{1056.5}{19.8}{36.5}
\mkC{cfa}{125.2}{1056.5}{20.7}{36.5}
\mkC{cpg}{162.5}{1056.5}{20.4}{36.5}
\end{pgfonlayer}
% nodes (main layer)
\let\mkR\drawR
\let\mkB\drawB
\nodelist
% labels and titles (front layer)
\begin{pgfonlayer}{front}
\let\mkR\labR
\let\mkB\labR
\nodelist
\mkT{A}{96.7}{421}{5.3}{gpcrs rhodopsin ligand}
\mkT{B}{163.7}{521}{7.4}{chemokine migration chemotaxis}
\mkT{C}{193.3}{530}{4.2}{cellular response necrosis}
\mkT{D}{212.7}{567.6}{3.3}{type ii interferon}
\mkT{E}{62.2}{616.4}{4.1}{tethering rolling extravasation}
\mkT{F}{242}{655}{6.3}{migration monocyte chemotaxis}
\mkT{G}{352.6}{434.7}{4.2}{viral genome replication}
\mkT{H}{356.7}{514.3}{3.2}{antiviral symbiont defense}
\mkT{I}{405.2}{567}{4.2}{interferon induction sars}
\mkT{J}{478.8}{602.5}{4.0}{toll receptor signaling}
\mkT{K}{398.6}{623.8}{4.2}{regulation interferon production}
\mkT{L}{468.4}{688.8}{5.2}{surface receptor pattern}
\mkT{M}{850}{423}{9.2}{srp protein synthesis}
\mkT{N}{951.8}{436.5}{4.2}{cd4 differentiation helper}
\mkT{O}{1010.3}{453.7}{4.3}{lymphocyte proliferation mononuclear}
\mkT{P}{1107}{427}{4.2}{necrosis factor production}
\mkT{Q}{1162.3}{460.3}{3.1}{positive chemokine production}
\mkT{R}{572.3}{672.9}{3.3}{cellular exogenous dsrna}
\mkT{S}{635.3}{676.1}{4.2}{type interferon pathway}
\mkT{T}{732}{666.7}{4.2}{mechanism ifn tuberculosis}
\mkT{gl}{546.8}{782.5}{3.15}{gluconeogenesis glycolysis}
\mkT{U}{70.4}{786}{5.2}{ion transport calcium}
\mkT{V}{158}{789.2}{4.2}{proton atp electron}
\mkT{W}{251.2}{789.9}{4.25}{appendage embryonic limb}
\mkT{X}{332.4}{786.6}{4.2}{molecule bacterial lipopolysaccharide}
\mkT{Y}{413.1}{792.8}{4.0}{il23 mediated signaling}
\mkT{Z}{479}{789.9}{3.2}{il12 events 2pathway}
\mkT{ib}{671}{785.3}{4.2}{interleukin 1 beta}
\mkT{lp}{745}{785.3}{4.2}{lymphocyte proliferation mononuclear}
\mkT{wb}{601.8}{852.9}{3.2}{superpathway warburg effect}
\mkT{ig}{821.2}{789.2}{3.2}{a6b1 a6b4 integrin}
\mkT{ig2}{874.8}{789.9}{3.2}{alpha6beta4integrin}
\mkT{rb}{925.7}{785}{3.2}{large subunit ribosome}
\mkT{rs}{963.2}{856.2}{3.2}{ribosomal small subunit}
\mkT{nm}{1029.3}{785}{3.2}{negative mediated immunity}
\mkT{mc}{1112}{785}{3.2}{microtubule polymerization depolymerization}
\mkT{dd}{1182.6}{785}{3.2}{dendritic spine dendrite}
\mkT{mo}{66.5}{932.3}{3.2}{multi organism reproductive}
\mkT{ma}{126.6}{930.7}{3.2}{macrophage activation myeloid}
\mkT{hf}{163.5}{934.3}{3.2}{hif 1 alpha}
\mkT{ty}{196}{934.3}{3.2}{type ii production}
\mkT{fo}{233}{934.3}{3.2}{folate metabolism vitamin}
\mkT{mx}{268}{934.3}{3.2}{modulation excitatory postsynaptic}
\mkT{mi}{314}{934.3}{3.2}{positive mirna metabolic}
\mkT{lh}{346}{937.5}{3.2}{lymphocyte homeostasis}
\mkT{js}{388.5}{937.5}{3.2}{pathway jak stat}
\mkT{lc}{423.5}{937.5}{3.2}{lymphocyte costimulation}
\mkT{ci}{458.4}{937.5}{3.2}{cellular interferon}
\mkT{bt}{505}{937.5}{3.2}{biomineral tissue ossification}
\mkT{hg}{548.4}{927.8}{3.2}{hallmark gamma response}
\mkT{eb}{584.5}{937.5}{3.2}{erbb2 erbb3 gleevec}
\mkT{xb}{609.7}{933.6}{3.2}{xbp1 activates chaperones}
\mkT{mg}{655}{937.1}{3.2}{mammary gland epithelium}
\mkT{cx}{699.8}{937.1}{3.2}{cxcr3 pathway}
\mkT{ec}{732.7}{934.3}{3.2}{pid ecadherin stabilization}
\mkT{sm}{769.6}{937.1}{3.2}{growth sema4d semaphorin}
\mkT{nk}{814}{937.1}{3.2}{natural killer cytotoxicity}
\mkT{ng}{849.1}{933.9}{3.2}{ngf stimulated kinase}
\mkT{ad}{886}{937.1}{3.2}{adhesion membrane cell}
\mkT{cc}{926.8}{937.1}{3.2}{ccr5 ccr1}
\mkT{dv}{964.8}{937.1}{3.2}{defense virus host}
\mkT{il}{1001.3}{934.3}{3.2}{interleukin 2 production}
\mkT{db}{1035}{937.1}{3.2}{detection biotic stimulus}
\mkT{ro}{1070}{937.1}{3.2}{regulation osteoclast differentiation}
\mkT{br}{1105}{937.1}{3.2}{bone resorption remodeling}
\mkT{iw}{1158}{937.1}{3.2}{regulation interleukin 12}
\mkT{ar}{43}{1014.2}{3.2}{cellular arsenic-containing}
\mkT{se}{85}{1014.2}{3.2}{selective expression polarization}
\mkT{fa}{120.8}{1014.2}{3.2}{regulation interleukin 4}
\mkT{pg}{171.6}{1014.2}{3.2}{granule organization pigment}
\end{pgfonlayer}
% edges
\begin{pgfonlayer}{edges}
\foreach \u/\v in {a1/a2,a1/a4,a2/a4,a2/a6,a3/a6,a3/a8,a3/a4,a2/a8,a5/a8,a6/a9,a6/a10,a8/a11,a9/a11,a10/b6,a9/b6,a11/b6,a8/b10,a7/b6,a11/b10,a10/b16,a10/b10}
 \draw[lk] (\u) -- (\v);
\foreach \u/\v in {a4/a6,a4/a7,a4/a8,a6/a7,a6/a8,a8/a10,a9/a10}
 \draw[lkm] (\u) -- (\v);
\foreach \u/\v in {a7/a8,a8/a9,a7/a10,a7/a9}
 \draw[lkt] (\u) -- (\v);
\foreach \u/\v in {b10/b11,b10/b14,b10/b16,b10/b17,b10/b19,b10/b20,b10/b22,b10/b23,b10/b6,b11/b14,b11/b16,b11/b20,b11/b23,b12/b13,b12/b18,b12/b21,b12/b24,b12/b19,b13/b18,b13/b21,b13/b24,b13/b19,b14/b16,b14/b20,b14/b23,b14/b18,b15/b22,b15/b19,b15/b25,b15/b17,b16/b20,b16/b22,b16/b23,b16/b17,b17/b22,b17/b19,b17/b20,b18/b21,b18/b24,b18/b6,b19/b22,b19/b25,b19/b16,b20/b23,b20/b21,b22/b25,b22/b23,b23/b24,b24/b6,b6/b11,b6/b12,b6/b13,b6/b14,b6/b16,b6/b17,b6/b21,b6/b20,b10/b12,b12/b25,b13/b25,b11/b22,b14/b22,b18/b22,b20/b22,b21/b22,b24/b22,b17/b25}
 \draw[lkm] (\u) -- (\v);
\foreach \u/\v in {b10/b22,b16/b19,b20/b23,b21/b24,b17/b22,b12/b13}
 \draw[lkt] (\u) -- (\v);
\foreach \u/\v in {b3/b13,b1/b7,b2/b3,b2/b5,b3/b5,b5/b9,b5/b7,b7/b9,b8/b9,b8/b26,b9/b26,b5/b8,b2/b9,b3/b7,b1/b3,b4/b7,b4/b5,b12/b7,b13/b7,b7/b8,b2/b7,b1/b2,b5/b26,b21/b26,b13/b9,b18/b7,b1/b6,b6/b7}
 \draw[lk] (\u) -- (\v);
\foreach \u/\v in {b2/b5,b8/b26,b9/b5}
 \draw[lkm] (\u) -- (\v);
\foreach \u/\v in {b22/e1,b22/e2,b17/e2,e1/e3,e2/e3,e1/e4,e2/e4,e1/e2,b21/f1,b13/f1}
 \draw[lk] (\u) -- (\v);
\draw[lkm] (e3) -- (e4);
\foreach \u/\v in {f1/f3,f1/f5,f1/f6,f1/f7,f1/f10,f1/f11,f1/f12,f1/f9,f2/f3,f2/f4,f2/f9,f2/f6,f3/f4,f3/f5,f3/f6,f3/f8,f3/f9,f3/f10,f4/f8,f4/f9,f4/f6,f4/f13,f5/f6,f5/f7,f5/f10,f5/f11,f6/f7,f6/f9,f6/f10,f6/f14,f6/f12,f8/f9,f8/f12,f8/f13,f9/f10,f9/f13,f9/f14,f9/f12,f10/f11,f10/f12,f10/f14,f7/f10,f7/f11,f7/f14,f11/f14,f12/f13,f12/f14,f3/f12,f2/f8,f3/f14}
 \draw[lkm] (\u) -- (\v);
\foreach \u/\v in {f3/f6,f6/f9,f10/f12,f12/f13,f8/f13}
 \draw[lkt] (\u) -- (\v);
\foreach \u/\v in {g1/g3,g1/g5,g2/g5,g2/g6,g3/g5,g4/g5,g5/g6,g3/g2,g6/h3,g5/h2,g1/h2,g4/h1,h1/h2,h3/i1,h2/i1,i1/i2,i1/i3,i2/i4,i3/i4,i1/k1,i1/k4,i4/j1,i2/j1,i4/k3,i3/k2}
 \draw[lk] (\u) -- (\v);
\foreach \u/\v in {g1/g2,g2/g4,g4/g6,h2/h3,h1/h3,i1/i4}
 \draw[lkm] (\u) -- (\v);
\foreach \u/\v in {k1/k5,k2/k4,k2/k3,k3/k6,k4/k5,k4/k7,k5/k7,k6/k7,k5/k6,k2/k5,k1/k3,k6/l1,k7/l2,k3/l1,j1/j2,j2/j3,j1/j3,j3/j4,j2/j4,j1/l1,j4/l2,l1/r2,j4/l3}
 \draw[lk] (\u) -- (\v);
\foreach \u/\v in {k1/k4,k3/k4,k4/k6,j1/j4,j4/l1,j4/l5}
 \draw[lkm] (\u) -- (\v);
\foreach \u/\v in {l1/l2,l1/l4,l1/l5,l1/l6,l1/l8,l1/l10,l2/l3,l2/l4,l2/l5,l3/l4,l3/l5,l3/l6,l3/l7,l3/l8,l3/l9,l3/l10,l4/l5,l4/l7,l4/l9,l4/l10,l5/l6,l5/l8,l5/l9,l5/l10,l6/l8,l6/l10,l7/l9,l7/l10,l8/l9,l8/l10,l9/l10,l2/l7,l6/l9}
 \draw[lkm] (\u) -- (\v);
\foreach \u/\v in {l1/l3,l3/l5,l4/l5,l8/l10}
 \draw[lkt] (\u) -- (\v);
\foreach \i in {1,...,36}{
 \foreach \k in {1,2,4,7,11,16}{
  \pgfmathtruncatemacro\j{mod(\i+\k-1,36)+1}
  \draw[draw=eblue,line width=1.6pt] (s\i) -- (s\j);
 }
}
\foreach \u/\v in {n1/n2,n1/n3,n2/n3,n2/n4,n3/n4,n1/n4,n3/o2,n3/o5,n4/o5,n2/o2,n3/o1}
 \draw[lkm] (\u) -- (\v);
\foreach \u/\v in {o1/o2,o1/o3,o1/o4,o1/o5,o1/o6,o1/o7,o2/o3,o2/o4,o2/o5,o2/o6,o2/o7,o3/o4,o3/o6,o3/o7,o4/o5,o4/o6,o4/o7,o5/o6,o5/o7,o6/o7,o3/o5}
 \draw[lkm] (\u) -- (\v);
\foreach \u/\v in {p1/p3,p1/p5,p2/p3,p2/p4,p2/p5,p2/p6,p2/p7,p2/p8,p3/p4,p3/p5,p3/p6,p3/p8,p4/p5,p4/p6,p4/p7,p4/p8,p5/p6,p5/p7,p5/p8,p6/p7,p6/p8,p7/p8,p1/p2,p3/q1,p5/q1,p8/q2,p1/q1,p6/q2}
 \draw[lkm] (\u) -- (\v);
\draw[lkt] (q1) -- (q2);
\foreach \u/\v in {r1/ti1,r3/ti1,r3/ti2,r3/ti4,ti1/mt2,ti4/mt2,mt2/mt1,mt1/mt4}
 \draw[lk] (\u) -- (\v);
\foreach \u/\v in {r1/r2,r1/r3,r2/r3,ti1/ti2,ti1/ti3,ti1/ti4,ti2/ti3,ti2/ti4,ti3/ti4,mt2/mt4,mt3/mt4,mt4/mt5}
 \draw[lkt] (\u) -- (\v);
\foreach \u/\v in {u1/u2,u1/u3,u1/u4,u1/u5,u1/u6,u1/u7,u1/u8,u1/u9,u2/u3,u2/u4,u2/u5,u2/u6,u2/u7,u2/u8,u2/u9,u3/u4,u3/u5,u3/u6,u3/u7,u3/u8,u3/u9,u4/u5,u4/u6,u4/u7,u4/u8,u4/u9,u5/u6,u5/u7,u5/u8,u5/u9,u6/u7,u6/u8,u6/u9,u7/u8,u7/u9,u8/u9,u10/u5,u10/u7,u10/u8,u10/u4,u10/u9}
 \draw[lkm] (\u) -- (\v);
\foreach \u/\v in {v1/v2,v1/v3,v1/v4,v1/v5,v1/v7,v2/v4,v2/v5,v2/v7,v3/v4,v3/v6,v3/v7,v4/v5,v4/v6,v4/v7,v5/v7,v6/v7,v5/v6,v2/v3}
 \draw[lkm] (\u) -- (\v);
\foreach \u/\v in {v1/v4,v4/v7,v2/v4,v4/v3}
 \draw[lkt] (\u) -- (\v);
\foreach \u/\v in {w1/w2,w1/w3,w1/w4,w1/w5,w1/w6,w2/w3,w2/w4,w2/w5,w2/w6,w3/w4,w3/w5,w3/w6,w4/w5,w4/w6,w5/w6}
 \draw[lkm] (\u) -- (\v);
\foreach \u/\v in {w2/w4,w5/w6,w1/w2}
 \draw[lkt] (\u) -- (\v);
\foreach \u/\v in {x1/x2,x1/x3,x1/x4,x1/x5,x1/x6,x2/x3,x2/x4,x2/x5,x2/x6,x3/x4,x3/x5,x3/x6,x4/x5,x4/x6,x5/x6}
 \draw[lkm] (\u) -- (\v);
\foreach \u/\v in {x1/x2,x3/x5,x5/x6}
 \draw[lkt] (\u) -- (\v);
\foreach \u/\v in {y1/y3,y1/y4,z2/y2,z2/y1,y2/y4}
 \draw[lk] (\u) -- (\v);
\foreach \u/\v in {y1/y2,y2/y3,y3/y4,z1/z2}
 \draw[lkt] (\u) -- (\v);
\foreach \u/\v in {gl1/gl2,ig2/ig4,ig2/ig3,rb2/rb3,rb3/rb4,rb1/rb2,ib1/ib2,lp1/lp4,lp2/lp3,lp2/lp4,wb1/wb3}
 \draw[lk] (\u) -- (\v);
\draw[lkm] (gl2) -- (wb1);
\foreach \u/\v in {wb1/wb2,wb2/wb3,ib1/ib3,ib1/ib4,ib2/ib3,ib2/ib4,ib3/ib4,lp1/lp3,ig1/ig2,ig3/ig4,nm1/nm2,nm1/nm3,nm2/nm3,mc1/mc2,mc1/mc3,mc2/mc3,dd1/dd2,dd1/dd3,dd2/dd3,mo1/mo2,mo1/mo3,mo2/mo3}
 \draw[lkm] (\u) -- (\v);
\foreach \u/\v in {ma1/ma2,hf1/hf2,ty1/ty2,fo1/fo2,mx1/mx2,mi1/mi2,lh1/lh2,js1/js2,lc1/lc2,ci1/ci2,bt1/bt2,hg1/hg2,eb1/eb2,xb1/xb2,mg1/mg2,cx1/cx2,ec1/ec2,sm1/sm2,nk1/nk2,ng1/ng2,ad1/ad2,cc1/cc2,dv1/dv2,il1/il2,db1/db2,ro1/ro2,br1/br2,iw1/iw2,ar1/ar2,se1/se2,fa1/fa2,pg1/pg2}
 \draw[lkm] (\u) -- (\v);
\end{pgfonlayer}
\end{tikzpicture}
\end{document}
